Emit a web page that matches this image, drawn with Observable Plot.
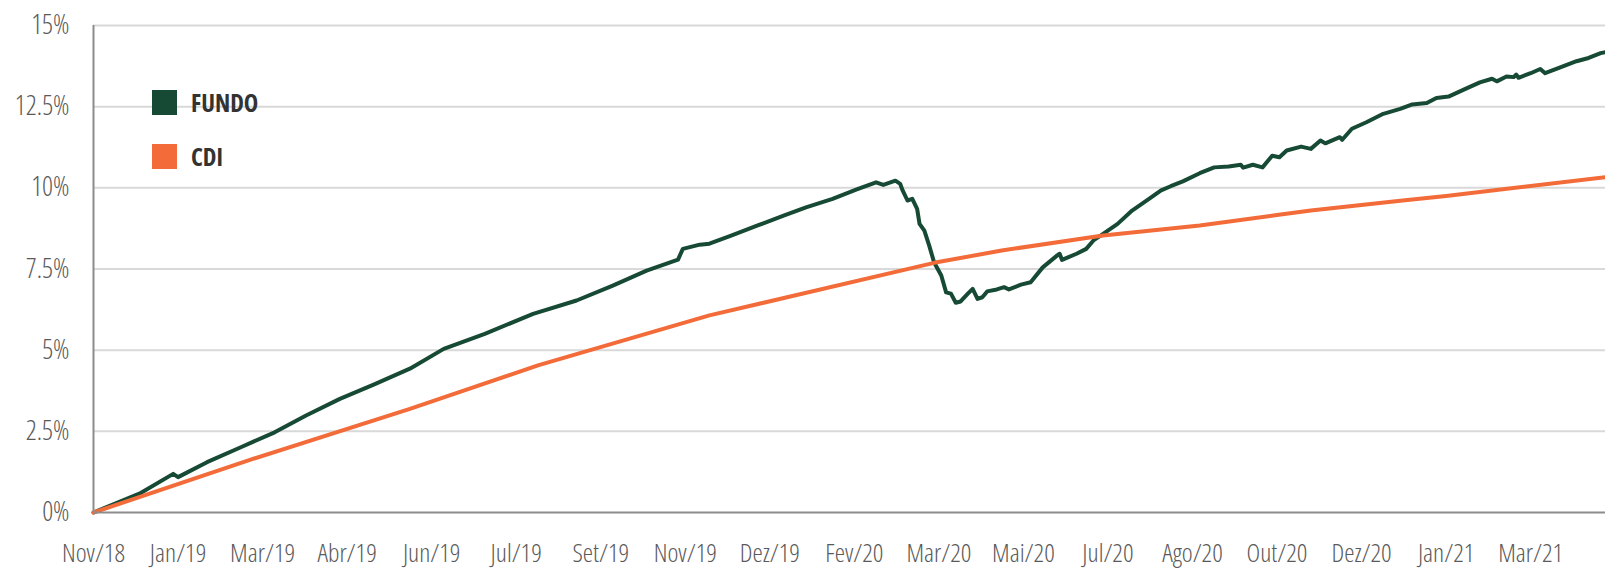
<!DOCTYPE html>
<html>
<head>
<meta charset="utf-8">
<script src="https://cdn.jsdelivr.net/npm/d3@7"></script>
<script src="https://cdn.jsdelivr.net/npm/@observablehq/plot@0.6"></script>
<style>
  html, body { margin: 0; padding: 0; background: #fff; }
  #wrap { position: relative; width: 1605px; height: 570px; font-family: "Open Sans", sans-serif; }
  .legend { position: absolute; left: 152px; top: 90px; }
  .item { display: flex; align-items: center; height: 25px; margin-bottom: 29px; }
  .sw { width: 25px; height: 25px; margin-right: 14px; }
  .lab { font-weight: 700; font-size: 24.5px; color: #333; font-stretch: 75%; }
  svg text { font-stretch: 75%; }
</style>
</head>
<body>
<div id="wrap"></div>
<script>
// Category labels for the x axis (one every 35 trading days)
const xLabels = ["Nov/18","Jan/19","Mar/19","Abr/19","Jun/19","Jul/19","Set/19","Nov/19","Dez/19","Fev/20","Mar/20","Mai/20","Jul/20","Ago/20","Out/20","Dez/20","Jan/21","Mar/21"];
const diasPorRotulo = 35;
const ultimoDia = 626;

// Y tick values and labels
const yTicks = [0, 2.5, 5, 7.5, 10, 12.5, 15];
const yLabels = ["0%","2.5%","5%","7.5%","10%","12.5%","15%"];

// Series names and colours
const seriesNames = ["FUNDO", "CDI"];
const seriesColors = ["#174a35", "#f26b38"];

// FUNDO: trading-day index and cumulative return (%)
const fundoDia = [0,19,33,35,47,61,75,88,102,116,131,145,162,182,200,215,229,242,244,251,255,264,275,286,295,306,316,324,327,332,334,335,337,339,341,342,344,346,348,351,353,355,357,359,362,364,366,368,370,374,377,379,384,388,393,399,400,401,407,411,414,418,424,430,437,442,446,451,458,464,470,475,476,480,484,488,491,494,500,504,508,510,516,517,521,527,534,541,546,552,556,561,568,574,579,581,585,588,589,590,595,599,601,607,614,619,624,626];
const fundoRet = [0,0.58,1.19,1.09,1.55,2.01,2.47,2.99,3.50,3.94,4.43,5.04,5.50,6.12,6.53,6.99,7.45,7.79,8.12,8.25,8.28,8.53,8.84,9.15,9.40,9.66,9.95,10.17,10.09,10.22,10.12,9.92,9.61,9.66,9.35,8.89,8.68,8.22,7.71,7.30,6.78,6.74,6.46,6.50,6.74,6.89,6.58,6.63,6.81,6.87,6.94,6.87,7.02,7.09,7.55,7.92,7.97,7.78,7.97,8.12,8.38,8.58,8.89,9.30,9.66,9.92,10.05,10.20,10.45,10.63,10.66,10.71,10.62,10.71,10.63,10.99,10.94,11.15,11.27,11.20,11.46,11.37,11.56,11.48,11.82,12.02,12.28,12.43,12.57,12.61,12.77,12.81,13.05,13.25,13.36,13.28,13.43,13.41,13.49,13.39,13.53,13.66,13.53,13.70,13.90,14.00,14.15,14.18];

// CDI: trading-day index and cumulative return (%)
const cdiDia = [0,66,131,184,255,348,376,418,458,490,504,542,560,626];
const cdiRet = [0,1.65,3.19,4.53,6.07,7.69,8.07,8.53,8.84,9.16,9.30,9.61,9.75,10.33];

const fundo = fundoDia.map((d, i) => ({dia: d, ret: fundoRet[i]}));
const cdi = cdiDia.map((d, i) => ({dia: d, ret: cdiRet[i]}));
const xTicks = xLabels.map((_, i) => i * diasPorRotulo);

const font = "'Open Sans', sans-serif";

const chart = Plot.plot({
  width: 1605,
  height: 570,
  marginLeft: 93,
  marginRight: 0,
  marginTop: 25,
  marginBottom: 58,
  x: {domain: [0, ultimoDia], axis: null},
  y: {domain: [0, 15], axis: null},
  style: {fontFamily: font, background: "#fff", overflow: "visible"},
  marks: [
    Plot.gridY(yTicks.filter(d => d > 0), {stroke: "#d9d9d9", strokeOpacity: 1, strokeWidth: 2}),
    Plot.axisY(yTicks, {label: null, tickSize: 0, tickPadding: 24, fontSize: 27, fill: "#5a5a5a", fontWeight: 300,
      tickFormat: d => yLabels[yTicks.indexOf(d)]}),
    Plot.axisX(xTicks, {label: null, tickSize: 0, tickPadding: 31, fontSize: 26, fill: "#5a5a5a", fontWeight: 300,
      tickFormat: d => xLabels[xTicks.indexOf(d)]}),
    Plot.line(fundo, {x: "dia", y: "ret", stroke: seriesColors[0], strokeWidth: 4, curve: "linear"}),
    Plot.line(cdi, {x: "dia", y: "ret", stroke: seriesColors[1], strokeWidth: 4, curve: "linear"}),
    Plot.ruleX([0], {stroke: "#8c8c8c", strokeWidth: 2}),
    Plot.ruleY([0], {stroke: "#8c8c8c", strokeWidth: 2})
  ]
});

const wrap = document.getElementById("wrap");
wrap.appendChild(chart);

const legend = document.createElement("div");
legend.className = "legend";
seriesNames.forEach((name, i) => {
  const item = document.createElement("div");
  item.className = "item";
  const sw = document.createElement("div");
  sw.className = "sw";
  sw.style.background = seriesColors[i];
  const lab = document.createElement("span");
  lab.className = "lab";
  lab.textContent = name;
  item.appendChild(sw);
  item.appendChild(lab);
  legend.appendChild(item);
});
wrap.appendChild(legend);
</script>
</body>
</html>
